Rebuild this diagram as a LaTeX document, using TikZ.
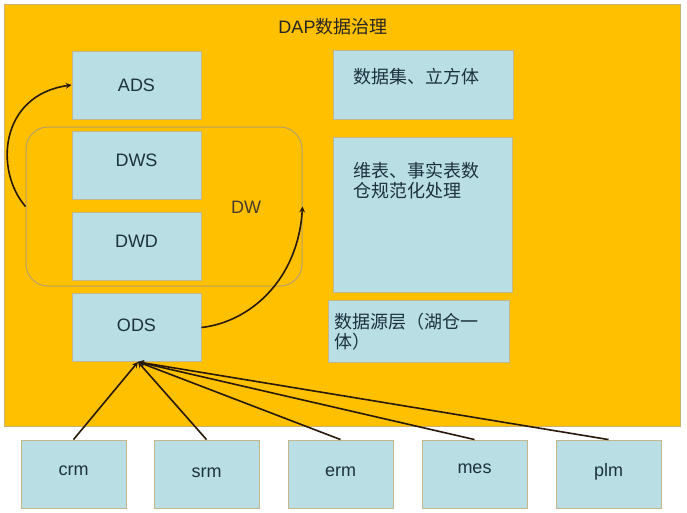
\documentclass[tikz,border=0pt]{standalone}
\usepackage{fontspec}
\setmainfont{Liberation Sans}
\newfontfamily\cjk{Noto Sans CJK SC}
\usepackage{xcolor}
\usepackage{tikz}
\usetikzlibrary{calc}
\definecolor{dapbg}{RGB}{255,192,0}
\definecolor{dapline}{RGB}{205,175,110}
\definecolor{boxfill}{RGB}{185,222,228}
\definecolor{boxline}{RGB}{196,182,140}
\definecolor{boxtext}{RGB}{28,50,62}
\definecolor{dwline}{RGB}{185,160,100}
\definecolor{arrowc}{RGB}{40,25,10}
\tikzset{>=stealth}

\begin{document}
\begin{tikzpicture}[x=1pt,y=-1pt,
    layerbox/.style={draw=boxline,line width=0.9pt,fill=boxfill,text=boxtext,inner sep=0pt,minimum width=129pt,minimum height=68pt,text height=13pt,font=\fontsize{18}{22}\selectfont},
    lift/.style={text depth=#1},
    srcbox/.style={layerbox,minimum width=105pt},
    notebox/.style={draw=boxline,line width=0.9pt,fill=boxfill,inner sep=0pt},
    notetext/.style={text=boxtext,inner sep=0pt,align=left,anchor=west,font=\cjk\fontsize{18}{20}\selectfont},
    feed/.style={->,draw=arrowc,line width=1.6pt}]
\useasboundingbox (0,0) rectangle (687,512);
\draw[fill=dapbg,draw=dapline,line width=0.8pt] (4,4) rectangle (680,426);
\node[text=black!85,font=\fontsize{18}{22}\selectfont] (title) at (333,27) {DAP{\cjk\fontsize{18}{22}\selectfont 数据治理}};
\node[draw=dwline,line width=1pt,rounded corners=22pt,minimum width=276pt,minimum height=159pt] (dw) at (164,206.5) {};
\node[text=arrowc!85,font=\fontsize{18}{22}\selectfont] (dwlabel) at (246,207) {DW};
\node[layerbox] (ads) at (136.5,85) {ADS};
\node[layerbox,lift=10pt] (dws) at (136.5,165) {DWS};
\node[layerbox,lift=11pt] (dwd) at (136.5,246.5) {DWD};
\node[layerbox,lift=5pt] (ods) at (136.5,327.5) {ODS};
\node[notebox,minimum width=180pt,minimum height=69pt] (cube) at (423,85) {};
\node[notetext] (cubetext) at (353,77) {数据集、立方体};
\node[notebox,minimum width=179pt,minimum height=155pt] (dim) at (422.5,214.5) {};
\node[notetext] (dimtext) at (353,181) {维表、事实表数\\仓规范化处理};
\node[notebox,minimum width=181pt,minimum height=62pt] (src) at (418.5,331) {};
\node[notetext] (srctext) at (334,332) {数据源层（湖仓一\\体）};
\node[srcbox,lift=11pt] (crm) at (73.5,474) {crm};
\node[srcbox,lift=7pt] (srm) at (206.5,474) {srm};
\node[srcbox,lift=9pt] (erm) at (340.5,474) {erm};
\node[srcbox,lift=15pt] (mes) at (474.5,474) {mes};
\node[srcbox,lift=9pt] (plm) at (608.5,474) {plm};
\foreach \s in {crm,srm,erm,mes,plm}
    \draw[feed] (\s.north) -- ([xshift=1.5pt]ods.south);
\draw[feed] (dw.west) .. controls (-6,170) and (0,95) .. (ads.west);
\draw[feed] (ods.east) .. controls (250,322) and (298,280) .. (dw.east);
\end{tikzpicture}
\end{document}
